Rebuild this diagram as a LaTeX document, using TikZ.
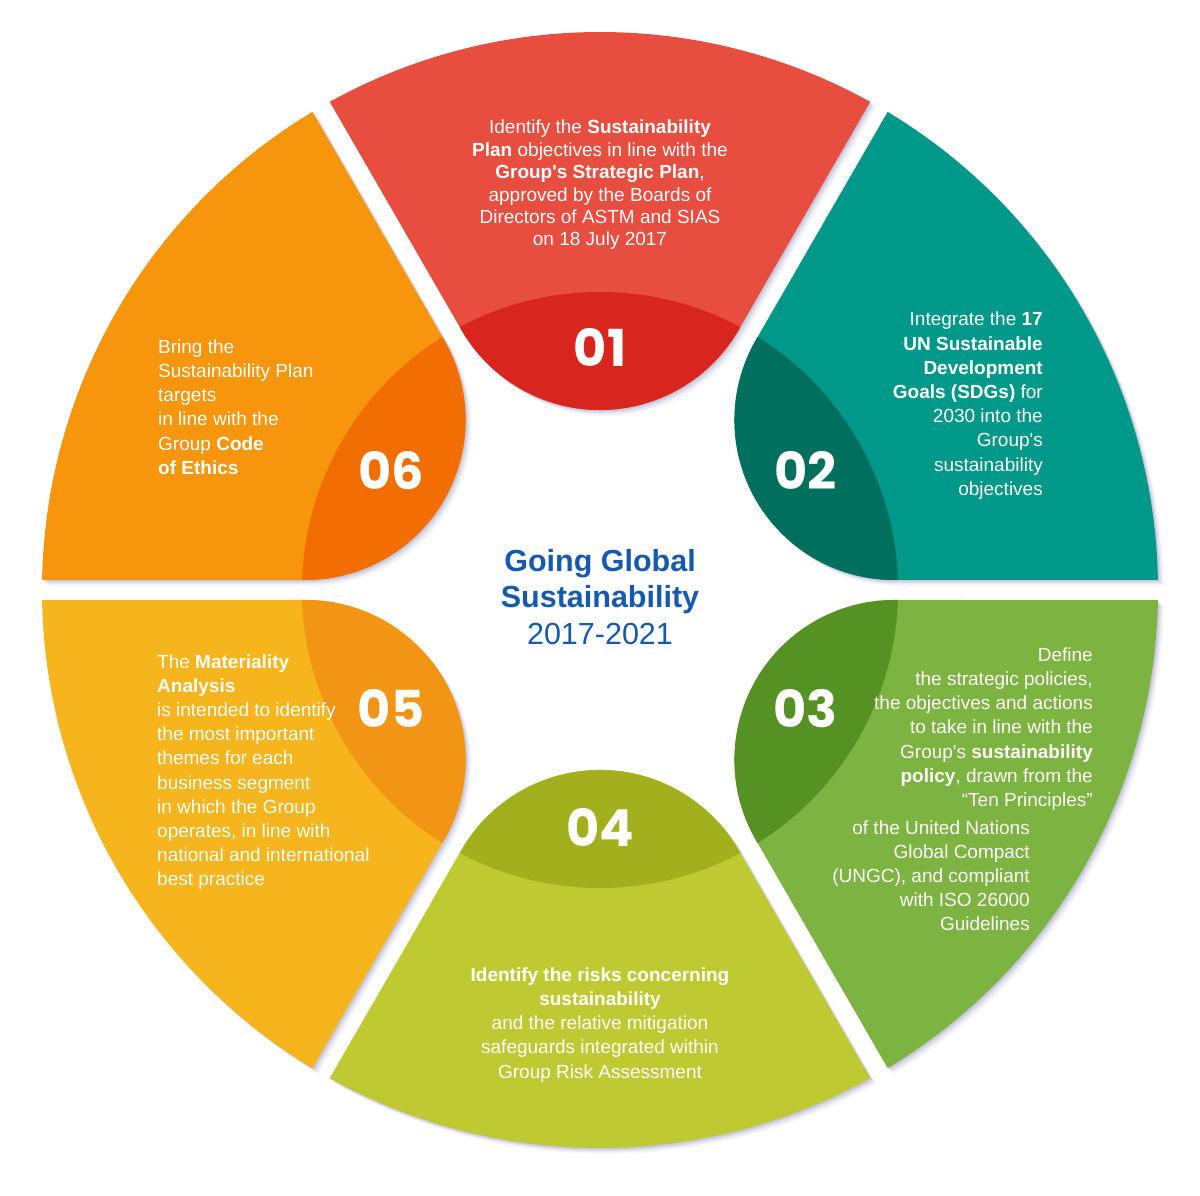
\documentclass[tikz,border=0pt]{standalone}
\usepackage{fontspec}
\setmainfont{Liberation Sans}[Ligatures=TeXOff]
\newfontfamily\numfont{Poppins}
\definecolor{c1l}{RGB}{232,78,64}
\definecolor{c1d}{RGB}{216,38,30}
\definecolor{c2l}{RGB}{0,152,136}
\definecolor{c2d}{RGB}{0,111,94}
\definecolor{c3l}{RGB}{125,180,65}
\definecolor{c3d}{RGB}{86,145,35}
\definecolor{c4l}{RGB}{191,202,51}
\definecolor{c4d}{RGB}{163,176,29}
\definecolor{c5l}{RGB}{246,181,29}
\definecolor{c5d}{RGB}{242,148,20}
\definecolor{c6l}{RGB}{247,150,13}
\definecolor{c6d}{RGB}{242,110,3}
\definecolor{titleblue}{RGB}{22,90,175}
\definecolor{shadowc}{RGB}{105,105,160}
\newcommand\petalpath{(260,138.56) -- (28.97:558) arc[start angle=28.97, end angle=-28.97, radius=558] -- (260,-138.56) arc[start angle=-120, end angle=-240, radius=160] -- cycle}
\begin{document}
\begin{tikzpicture}[x=1pt, y=1pt,
  txt/.style={text=white, inner sep=0pt, font=\fontsize{19}{24.2}\selectfont},
  num/.style={text=white, inner sep=0pt, font=\numfont\bfseries\fontsize{51}{51}\selectfont}]
\fill[white] (0,0) rectangle (1200,1196);
\useasboundingbox (0,0) rectangle (1200,1196);
% soft shadows
\foreach \a in {90,30,-30,-90,-150,150}{
  \foreach \o/\op in {1.5/0.16, 3/0.12, 4.5/0.08, 6/0.05}{
    \fill[shadowc, opacity=\op, shift={(600+\o,606-\o)}, rotate=\a] \petalpath;
  }
}
% petals
\foreach \a/\l/\d in {90/c1l/c1d, 30/c2l/c2d, -30/c3l/c3d, -90/c4l/c4d, -150/c5l/c5d, 150/c6l/c6d}{
  \begin{scope}[shift={(600,606)}, rotate=\a]
    \fill[\l] \petalpath;
    \begin{scope}
      \clip (0,0) circle[radius=298];
      \fill[\d] \petalpath;
    \end{scope}
  \end{scope}
}
% numbers
\node[num] (n1) at (600,848) {01};
\node[num] (n2) at (805.5,725.5) {02};
\node[num] (n3) at (805.5,487.5) {03};
\node[num] (n4) at (600,368) {04};
\node[num] (n5) at (391,487.5) {05};
\node[num] (n6) at (391,725.5) {06};
% texts
\node[txt, align=center, font=\fontsize{19}{22.4}\selectfont] (t1) at (600,1011) {Identify the \textbf{Sustainability}\\\textbf{Plan} objectives in line with the\\\textbf{Group's Strategic Plan},\\approved by the Boards of\\Directors of ASTM and SIAS\\on 18 July 2017};
\node[txt, align=right, anchor=east] (t2) at (1043,790.4) {Integrate the \textbf{17}\\\textbf{UN Sustainable}\\\textbf{Development}\\\textbf{Goals (SDGs)} for\\2030 into the\\Group's\\sustainability\\objectives};
\node[txt, align=right, anchor=east] (t3a) at (1093,467) {Define\\the strategic policies,\\the objectives and actions\\to take in line with the\\Group's \textbf{sustainability}\\\textbf{policy}, drawn from the\\“Ten Principles”};
\node[txt, align=right, anchor=east] (t3b) at (1030,320.3) {of the United Nations\\Global Compact\\(UNGC), and compliant\\with ISO 26000\\Guidelines};
\node[txt, align=center] (t4) at (600,171.3) {\textbf{Identify the risks concerning}\\\textbf{sustainability}\\and the relative mitigation\\safeguards integrated within\\Group Risk Assessment};
\node[txt, align=left, anchor=west] (t5) at (157,424) {The \textbf{Materiality}\\\textbf{Analysis}\\is intended to identify\\the most important\\themes for each\\business segment\\in which the Group\\operates, in line with\\national and international\\best practice};
\node[txt, align=left, anchor=west] (t6) at (158,789) {Bring the\\Sustainability Plan\\targets\\in line with the\\Group \textbf{Code}\\\textbf{of Ethics}};
\node[text=titleblue, align=center, inner sep=0pt, font=\fontsize{30.5}{36.5}\selectfont] (title) at (600,599) {\textbf{Going Global}\\\textbf{Sustainability}\\2017-2021};
\end{tikzpicture}
\end{document}
